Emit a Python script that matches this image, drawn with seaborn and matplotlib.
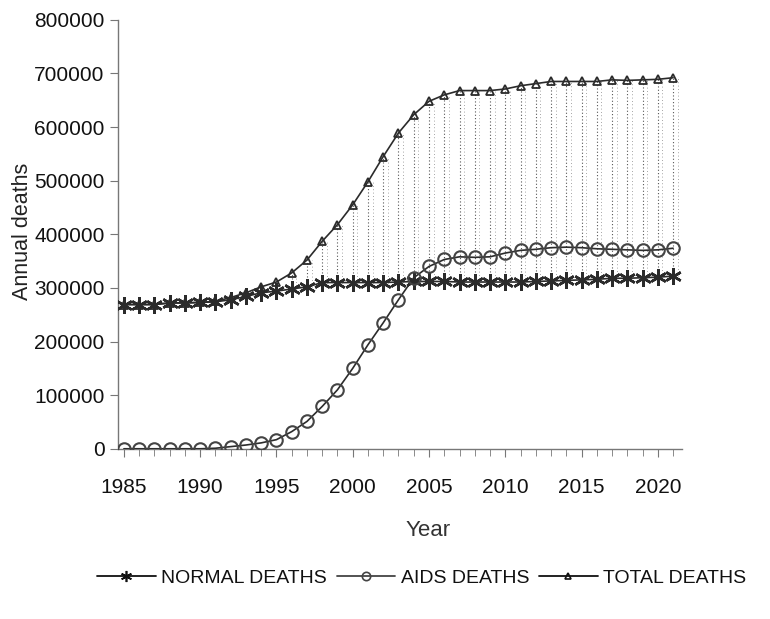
import numpy as np
import pandas as pd
import matplotlib
matplotlib.use('Agg')
import matplotlib.pyplot as plt
from matplotlib.lines import Line2D
import seaborn as sns

sns.set_style('ticks')
plt.rcParams['font.family'] = ['Liberation Sans', 'DejaVu Sans']

# Данные
years = list(range(1985, 2022))
normal_deaths = [269000, 269000, 269000, 272000, 272000, 273000, 274000, 278000,
                 284000, 291000, 294000, 298000, 302000, 310000, 310000, 310000,
                 310000, 310000, 311000, 312000, 312000, 312000, 311000, 311000,
                 311000, 311000, 311000, 312000, 313000, 314000, 315000, 316000,
                 318000, 318000, 319000, 320000, 322000]
aids_deaths = [0, 0, 0, 0, 0, 0, 1000, 4000,
               7000, 11000, 17000, 32000, 51000, 79000, 110000, 150000,
               194000, 235000, 278000, 319000, 340000, 353000, 358000, 357000,
               358000, 365000, 370000, 372000, 375000, 376000, 375000, 373000,
               372000, 371000, 370000, 371000, 374000]
total_deaths = [269000, 269000, 269000, 272000, 272000, 273000, 275000, 282000,
                291000, 302000, 311000, 328000, 352000, 387000, 418000, 455000,
                498000, 545000, 589000, 623000, 648000, 660000, 668000, 668000,
                668000, 671000, 677000, 681000, 685000, 685000, 685000, 685000,
                688000, 687000, 688000, 689000, 692000]

df = pd.DataFrame({'year': years, 'normal': normal_deaths,
                   'aids': aids_deaths, 'total': total_deaths})

fig = plt.figure(figsize=(7.7, 6.19), dpi=100)
ax = fig.add_axes([0.153, 0.275, 0.733, 0.693])

line_col = '#2b2b2b'

# Пунктирные вертикали между обычной и общей смертностью
fill = df[df['year'] >= 1996]
ax.vlines(fill['year'], fill['normal'], fill['total'], colors='#555555',
          linestyles=(0, (1, 2)), linewidth=0.8, zorder=1)
ax.vlines(fill['year'] + 0.3, fill['normal'], fill['total'], colors='#888888',
          linestyles=(0, (1, 3)), linewidth=0.6, zorder=1)

sns.lineplot(data=df, x='year', y='normal', ax=ax, color=line_col, lw=1.2,
             marker=(6, 2, 0), markersize=12, markeredgewidth=1.8,
             markeredgecolor=line_col, zorder=3)
sns.lineplot(data=df, x='year', y='aids', ax=ax, color=line_col, lw=1.2,
             marker='o', markersize=9, markerfacecolor='none',
             markeredgewidth=1.5, markeredgecolor='#444444', zorder=3)
sns.lineplot(data=df, x='year', y='total', ax=ax, color=line_col, lw=1.2,
             marker='^', markersize=5.5, markerfacecolor='none',
             markeredgewidth=1.3, markeredgecolor=line_col, zorder=3)

ax.set_xlim(1984.6, 2021.6)
ax.set_ylim(0, 800000)
ax.set_xticks(range(1985, 2021, 5))
ax.set_xticks(years, minor=True)
ax.set_yticks(range(0, 800001, 100000))
ax.ticklabel_format(axis='y', style='plain')
ax.tick_params(axis='both', which='major', labelsize=15, length=6,
               color='#777777', labelcolor='#111111')
ax.tick_params(axis='x', which='minor', length=5, color='#777777')
ax.tick_params(axis='x', pad=15)

sns.despine(ax=ax)
for s in ['left', 'bottom']:
    ax.spines[s].set_color('#777777')
    ax.spines[s].set_linewidth(1.0)

ax.set_ylabel('Annual deaths', fontsize=15.5, color='#222222')
ax.yaxis.set_label_coords(-0.151, 0.506)
ax.set_xlabel('Year', fontsize=16, color='#333333')
ax.xaxis.set_label_coords(0.55, -0.167)

handles = [
    Line2D([], [], color='#111111', lw=1.3, marker=(6, 2, 0), markersize=8,
           markeredgewidth=1.2),
    Line2D([], [], color='#444444', lw=1.3, marker='o', markersize=6,
           markerfacecolor='none', markeredgewidth=1.2),
    Line2D([], [], color='#111111', lw=1.3, marker='^', markersize=5,
           markerfacecolor='none', markeredgewidth=1.2),
]
fig.legend(handles, ['NORMAL DEATHS', 'AIDS DEATHS', 'TOTAL DEATHS'],
           loc='center', bbox_to_anchor=(0.548, 0.066), ncol=3, frameon=False,
           fontsize=14, handlelength=3.0, handletextpad=0.3, columnspacing=0.5,
           labelcolor='#111111')

plt.savefig('out.png', dpi=100)
plt.close()
